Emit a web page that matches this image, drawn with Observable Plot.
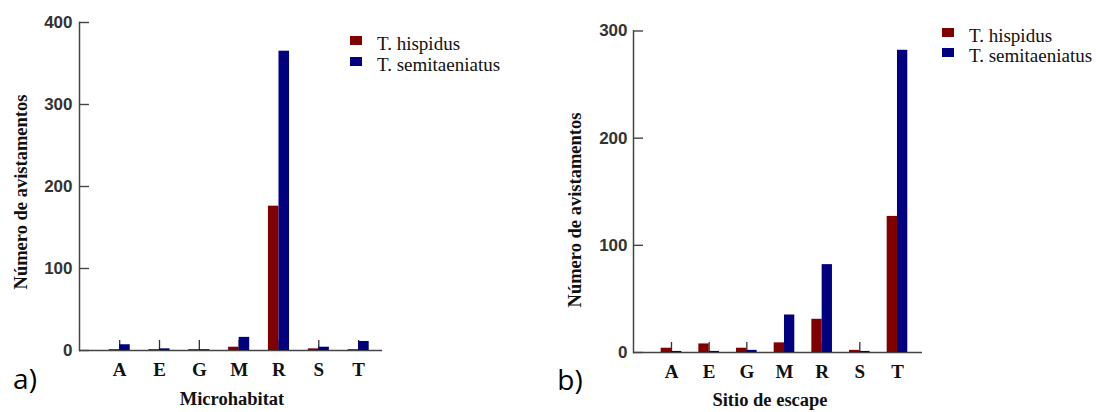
<!DOCTYPE html>
<html><head><meta charset="utf-8">
<script src="https://cdn.jsdelivr.net/npm/d3@7"></script>
<script src="https://cdn.jsdelivr.net/npm/@observablehq/plot@0.6"></script>
<style>
body{margin:0;background:#fff;}
#wrap{position:relative;width:1096px;height:412px;overflow:hidden;background:#fff;}
.panel{position:absolute;top:0;}
.t{position:absolute;white-space:nowrap;line-height:1;}
.title{font-family:"Liberation Serif","Times New Roman",serif;font-weight:bold;font-size:18.5px;color:#111;transform:translate(-50%,-50%);}
.ytitle{font-family:"Liberation Serif","Times New Roman",serif;font-weight:bold;font-size:18.5px;color:#111;transform:translate(-50%,-50%) rotate(-90deg);}
.leg{font-family:"Liberation Serif","Times New Roman",serif;font-size:19px;color:#111;transform:translateY(-50%);}
.sw{position:absolute;width:12px;height:9px;}
.tag{font-family:"Open Sans","Noto Sans",sans-serif;font-size:28px;color:#000;transform:translate(-50%,-50%);}
</style></head><body><div id="wrap"></div>
<script>
const categories = ["A", "E", "G", "M", "R", "S", "T"];
const species = ["T. hispidus", "T. semitaeniatus"];
const speciesColors = ["#800000", "#000080"];
const microHispidus = [1, 1, 1, 4, 176, 2, 1];
const microSemitaeniatus = [7, 2, 1, 16, 365, 4, 11];
const escapeHispidus = [4, 8, 4, 9, 31, 2, 127];
const escapeSemitaeniatus = [1, 1, 2, 35, 82, 1, 282];
const microTicks = [0, 100, 200, 300, 400];
const escapeTicks = [0, 100, 200, 300];
const yTitle = "Número de avistamentos";
const xTitleA = "Microhabitat";
const xTitleB = "Sitio de escape";

const wrap = document.getElementById("wrap");

function rows(vals) { return categories.map((c, i) => ({cat: c, value: vals[i]})); }

function makePanel(cfg) {
  const n = categories.length;
  const W = cfg.width - cfg.marginLeft - cfg.marginRight;
  const step = W / (n - cfg.pi + 2 * cfg.po);
  const bw = step * (1 - cfg.pi);
  const chart = Plot.plot({
    width: cfg.width, height: 412,
    marginLeft: cfg.marginLeft, marginRight: cfg.marginRight,
    marginTop: cfg.marginTop, marginBottom: cfg.marginBottom,
    style: {background: "transparent", overflow: "visible"},
    x: {domain: categories, paddingInner: cfg.pi, paddingOuter: cfg.po, align: cfg.align, round: false, axis: null},
    y: {domain: [0, cfg.yMax], axis: null},
    marks: [
      Plot.frame({anchor: "left", stroke: "#444", strokeWidth: 1.5}),
      Plot.ruleY([0], {stroke: "#444", strokeWidth: 1.5}),
      Plot.axisY({anchor: "left", ticks: cfg.ticks, tickSize: -10, tickPadding: cfg.yPad, stroke: "#444", strokeWidth: 1.4,
        fill: "#333", fontSize: 17, fontWeight: "bold", fontFamily: "Liberation Sans, Arial, sans-serif", label: null}),
      Plot.axisX({anchor: "bottom", tickSize: -10, tickPadding: 22, stroke: "#333", strokeWidth: 1.3,
        fill: "#111", fontSize: 19, fontWeight: "bold", fontFamily: "Liberation Serif, Times New Roman, serif", label: null}),
      Plot.barY(rows(cfg.hisp), {x: "cat", y: "value", fill: speciesColors[0], insetRight: bw / 2}),
      Plot.barY(rows(cfg.semi), {x: "cat", y: "value", fill: speciesColors[1], insetLeft: bw / 2})
    ]
  });
  const d = document.createElement("div");
  d.className = "panel";
  d.style.left = cfg.left + "px";
  d.appendChild(chart);
  wrap.appendChild(d);
}

function addText(cls, txt, x, y) {
  const e = document.createElement("div");
  e.className = "t " + cls;
  e.textContent = txt;
  e.style.left = x + "px"; e.style.top = y + "px";
  wrap.appendChild(e);
}
function addLegend(x, y1, y2) {
  [y1, y2].forEach((y, i) => {
    const s = document.createElement("div");
    s.className = "sw";
    s.style.left = x + "px"; s.style.top = (y - 5) + "px";
    s.style.background = speciesColors[i];
    wrap.appendChild(s);
    addText("leg", species[i], x + 27, y + 2);
  });
}

makePanel({left: 0, width: 548, marginLeft: 79, marginRight: 166, marginTop: 22, marginBottom: 62,
  yMax: 400, ticks: microTicks, yPad: 17, pi: 0.47, po: 0.539, align: 0.69,
  hisp: microHispidus, semi: microSemitaeniatus});
makePanel({left: 548, width: 548, marginLeft: 85, marginRight: 174, marginTop: 30.5, marginBottom: 60,
  yMax: 300, ticks: escapeTicks, yPad: 16, pi: 0.453, po: 0.563, align: 0.653,
  hisp: escapeHispidus, semi: escapeSemitaeniatus});

addText("ytitle", yTitle, 21, 192);
addText("ytitle", yTitle, 575, 210);
addText("title", xTitleA, 232, 399);
addText("title", xTitleB, 770, 400);
addText("tag", "a)", 25, 378);
addText("tag", "b)", 570, 379);
addLegend(350, 41, 62);
addLegend(942, 33, 53);
</script></body></html>
